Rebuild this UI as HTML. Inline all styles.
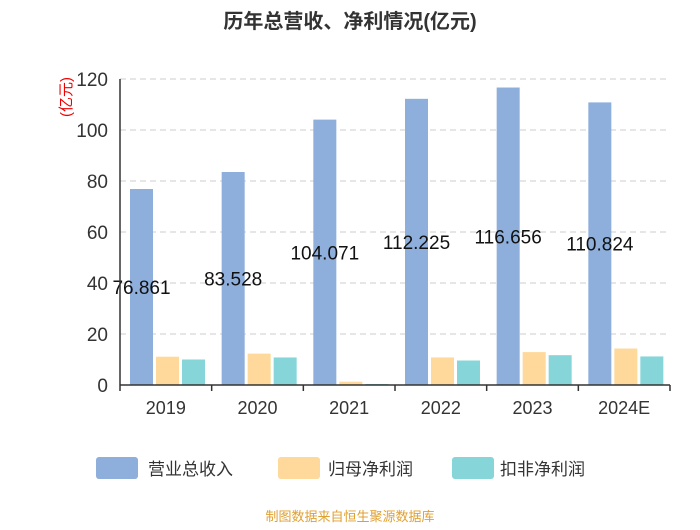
<!DOCTYPE html>
<html><head><meta charset="utf-8"><style>
body{margin:0;background:#fff;font-family:"Liberation Sans","Noto Sans CJK SC",sans-serif}
</style></head><body>
<svg id="c" width="700" height="525" xmlns="http://www.w3.org/2000/svg" style="font-family:'Liberation Sans','Noto Sans CJK SC',sans-serif">
<text x="350" y="28" text-anchor="middle" font-size="20" font-weight="bold" fill="#333">历年总营收、净利情况(亿元)</text>
<text transform="translate(71,97) rotate(-90)" text-anchor="middle" font-size="15" fill="#e00">(亿元)</text>
<g id="grid"></g><g id="bars"></g><g id="axes"></g>
<g>
<rect x="96" y="457" width="42" height="22" rx="3" fill="#8eaedb"/>
<text x="148" y="475" font-size="17" fill="#333">营业总收入</text>
<rect x="278" y="457" width="42" height="22" rx="3" fill="#fed99b"/>
<text x="328" y="475" font-size="17" fill="#333">归母净利润</text>
<rect x="452" y="457" width="42" height="22" rx="3" fill="#86d6d9"/>
<text x="500" y="475" font-size="17" fill="#333">扣非净利润</text>
</g>
<text x="350" y="521" text-anchor="middle" font-size="13" fill="#e0a030">制图数据来自恒生聚源数据库</text>
</svg>
<script>
const categories=["2019","2020","2021","2022","2023","2024E"];
const revenue=[76.861,83.528,104.071,112.225,116.656,110.824];
const netProfit=[11.1,12.3,1.3,10.8,12.9,14.3];
const deductedProfit=[10.0,10.8,0.4,9.6,11.7,11.2];
const yTicks=[0,20,40,60,80,100,120];
const NS="http://www.w3.org/2000/svg";
const x0=120,x1=670,yb=385,yt=79,ymax=120;
const band=(x1-x0)/categories.length;
const y=v=>yb-(v/ymax)*(yb-yt);
function mk(tag,attrs,parent,txt){const e=document.createElementNS(NS,tag);for(const k in attrs)e.setAttribute(k,attrs[k]);if(txt!==undefined)e.textContent=txt;document.getElementById(parent).appendChild(e);return e;}
yTicks.forEach(t=>{
 if(t>0){const g=mk('line',{x1:x0,x2:x1,y1:y(t),y2:y(t),stroke:'#ccc','stroke-dasharray':'6,4'},'grid');
 
 }
 const l=mk('text',{x:108,y:y(t)+7,'text-anchor':'end','font-size':19,fill:'#333'},'axes',t);
 
 
});
const ax=mk('line',{x1:x0,x2:x0,y1:yt,y2:yb,stroke:'#333','stroke-width':1.5},'axes');


const bx=mk('line',{x1:x0,x2:x1,y1:yb,y2:yb,stroke:'#333','stroke-width':1.5},'axes');


for(let i=0;i<=categories.length;i++){
 const t=mk('line',{x1:x0+i*band,x2:x0+i*band,y1:yb,y2:yb+6,stroke:'#333','stroke-width':1.5},'axes');
 
 
}
const series=[[revenue,'#8eaedb','revenue',10],[netProfit,'#fed99b','net-profit',36],[deductedProfit,'#86d6d9','deducted-profit',62]];
categories.forEach((c,i)=>{
 const bx0=x0+i*band;
 series.forEach(([arr,col,nm,off])=>{
  const r=mk('rect',{x:bx0+off,y:y(arr[i]),width:23,height:yb-y(arr[i]),fill:col},'bars');
  
  
 });
 const v=mk('text',{x:bx0+21.5,y:(y(revenue[i])+yb)/2+7,'text-anchor':'middle','font-size':19,fill:'#111'},'bars',revenue[i].toFixed(3));
 
 
 const l=mk('text',{x:bx0+band/2,y:414,'text-anchor':'middle','font-size':18,fill:'#333'},'axes',c);
 
 
});
</script>
</body></html>
